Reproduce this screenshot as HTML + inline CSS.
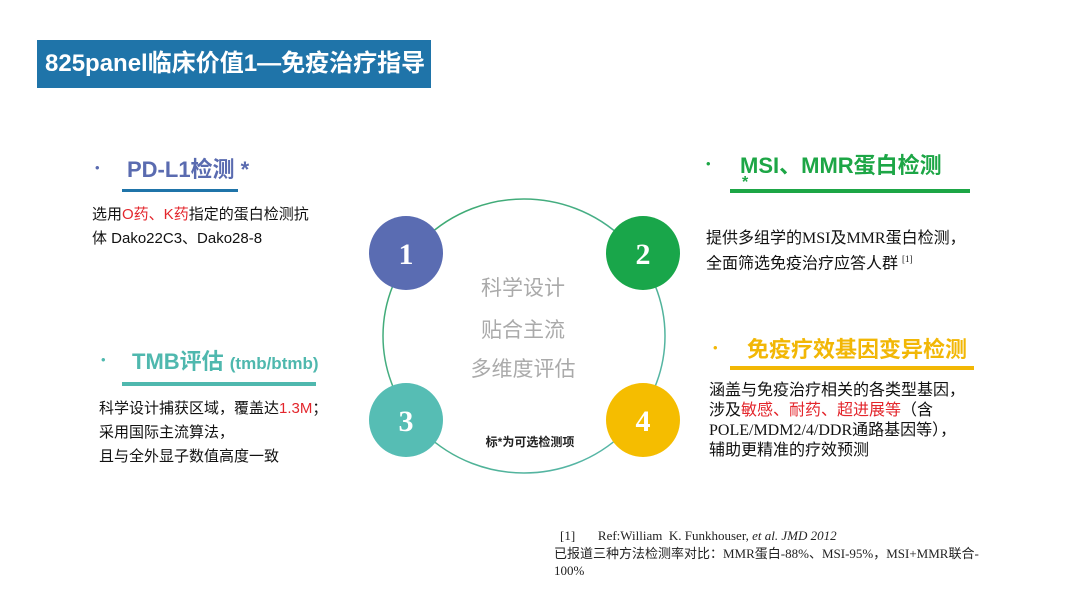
<!DOCTYPE html>
<html><head><meta charset="utf-8"><style>
body{margin:0;width:1080px;height:608px;background:#fff;position:relative;overflow:hidden;font-family:"Liberation Sans","Noto Sans CJK SC",sans-serif;}
.a{position:absolute;white-space:nowrap;}
.title{left:37px;top:40px;width:394px;height:48px;background:#1f74a9;color:#fff;font-weight:bold;font-size:24px;line-height:48px;padding-left:8px;box-sizing:border-box;}
.h{font-weight:bold;font-size:22px;}
.t{font-size:15px;color:#111;line-height:24px;}
.r{color:#e3262c;}
.serif{font-family:"Liberation Serif","Noto Sans CJK SC",serif;}
.b{font-size:13px;}
</style></head><body>
<div class="a title">825panel临床价值1—免疫治疗指导</div>

<div class="a b" style="left:95px;top:160px;color:#5a6bb0">•</div>
<div class="a h" style="left:127px;top:152px;color:#5a6bb0">PD-L1检测 *</div>
<div class="a" style="left:122px;top:189px;width:116px;height:3px;background:#1f74a9"></div>
<div class="a t" style="left:92px;top:203px">选用<span class="r">O药、K药</span>指定的蛋白检测抗<br>体 Dako22C3、Dako28-8</div>

<div class="a b" style="left:101px;top:352px;color:#4fb8ae">•</div>
<div class="a h" style="left:132px;top:344px;color:#4fb8ae">TMB评估 <span style="font-size:17px">(tmb/btmb)</span></div>
<div class="a" style="left:122px;top:382px;width:194px;height:4px;background:#4fb8ae"></div>
<div class="a t" style="left:99px;top:397px">科学设计捕获区域，覆盖达<span class="r">1.3M</span>；<br>采用国际主流算法，<br>且与全外显子数值高度一致</div>

<div class="a b" style="left:706px;top:156px;color:#1da646">•</div>
<div class="a h" style="left:740px;top:148px;color:#1da646">MSI、MMR蛋白检测</div>
<div class="a h" style="left:742px;top:174px;color:#1da646;font-size:16px">*</div>
<div class="a" style="left:730px;top:189px;width:240px;height:4px;background:#1da646"></div>
<div class="a t serif" style="left:706px;top:228px;line-height:21px;font-size:16px">提供多组学的MSI及MMR蛋白检测，<br>全面筛选免疫治疗应答人群 <sup style="font-size:9px">[1]</sup></div>

<div class="a b" style="left:713px;top:340px;color:#f2b705">•</div>
<div class="a h" style="left:747px;top:332px;color:#f2b705">免疫疗效基因变异检测</div>
<div class="a" style="left:730px;top:366px;width:244px;height:4px;background:#f2b705"></div>
<div class="a t serif" style="left:709px;top:381px;line-height:20px;font-size:16px">涵盖与免疫治疗相关的各类型基因，<br>涉及<span class="r">敏感、耐药、超进展等</span>（含<br>POLE/MDM2/4/DDR通路基因等），<br>辅助更精准的疗效预测</div>

<svg class="a" style="left:0;top:0" width="1080" height="608">
<defs><linearGradient id="g" x1="0" y1="0" x2="1" y2="1"><stop offset="0" stop-color="#3aa86a"/><stop offset="1" stop-color="#5bb8b0"/></linearGradient></defs>
<ellipse cx="524" cy="336" rx="141" ry="137" fill="none" stroke="url(#g)" stroke-width="1.5"/>
<circle cx="406" cy="253" r="37" fill="#5a6cb2"/>
<circle cx="643" cy="253" r="37" fill="#19a64a"/>
<circle cx="406" cy="420" r="37" fill="#56bdb4"/>
<circle cx="643" cy="420" r="37" fill="#f5bd00"/>
<g font-family="Liberation Serif,serif" font-weight="bold" font-size="30" fill="#fff" text-anchor="middle">
<text x="406" y="264">1</text><text x="643" y="264">2</text><text x="406" y="431">3</text><text x="643" y="431">4</text></g>
<g font-family="Liberation Sans,Noto Sans CJK SC,sans-serif" font-size="21" fill="#aaa" text-anchor="middle">
<text x="523" y="295">科学设计</text><text x="523" y="337">贴合主流</text><text x="523" y="376">多维度评估</text></g>
<text x="530" y="446" font-family="Liberation Sans,Noto Sans CJK SC,sans-serif" font-size="12" font-weight="bold" fill="#222" text-anchor="middle">标*为可选检测项</text>
</svg>

<div class="a serif" style="left:560px;top:528px;font-size:13px;color:#222">[1]&nbsp;&nbsp;&nbsp;&nbsp;&nbsp;&nbsp;&nbsp;Ref:William&nbsp; K. Funkhouser, <i>et al. JMD 2012</i></div>
<div class="a serif" style="left:554px;top:545px;font-size:13px;color:#222;line-height:17px">已报道三种方法检测率对比：MMR蛋白-88%、MSI-95%，MSI+MMR联合-<br>100%</div>
</body></html>
